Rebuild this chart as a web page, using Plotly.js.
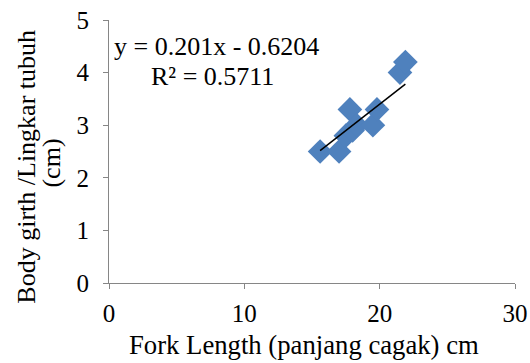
<!DOCTYPE html>
<html><head><meta charset="utf-8">
<script src="https://cdn.plot.ly/plotly-3.0.1.min.js"></script>
<style>body{margin:0;background:#fff}#c{width:530px;height:363px}</style>
</head><body><div id="c"></div>
<script>
const forkLength = [15.6, 17.0, 17.5, 17.8, 18.0, 18.3, 19.5, 19.8, 21.5, 21.9];
const bodyGirth  = [2.5, 2.5, 2.8, 3.3, 2.9, 3.0, 3.0, 3.3, 4.0, 4.2];
const slope = 0.201, intercept = -0.6204, r2 = 0.5711;
const xTicks = [0, 10, 20, 30];
const yTicks = [0, 1, 2, 3, 4, 5];
const xTitle = 'Fork Length (panjang cagak) cm';
const yTitleLines = ['Body girth /Lingkar tubuh', '(cm)'];

const xMin = Math.min(...forkLength), xMax = Math.max(...forkLength);
const trendX = [xMin, xMax];
const trendY = trendX.map(x => slope * x + intercept);

const fam = '"Liberation Serif", "Times New Roman", serif';
const f = s => ({family: fam, size: s, color: '#000'});
const data = [
  {x: forkLength, y: bodyGirth, type: 'scatter', mode: 'markers',
   marker: {symbol: 'diamond', size: 19, color: '#4F81BD', line: {width: 0}}},
  {x: trendX, y: trendY, type: 'scatter', mode: 'lines',
   line: {color: '#000', width: 1.5}}
];
const layout = {
  width: 530, height: 363, showlegend: false,
  margin: {l: 109, r: 15, t: 20, b: 80},
  paper_bgcolor: '#fff', plot_bgcolor: '#fff',
  font: f(20),
  xaxis: {range: [0, 30], tickvals: xTicks, showgrid: false, zeroline: false,
    showline: true, linecolor: '#868686', linewidth: 1,
    ticks: 'outside', ticklen: 5, tickcolor: '#868686',
    tickfont: f(25), ticklabelstandoff: 3},
  yaxis: {range: [0, 5], tickvals: yTicks, showgrid: false, zeroline: false,
    showline: true, linecolor: '#868686', linewidth: 1,
    ticks: 'outside', ticklen: 5, tickcolor: '#868686',
    tickfont: f(25), ticklabelstandoff: 9},
  annotations: [
    {xref: 'paper', yref: 'paper', x: 0.007, y: 0.901, xanchor: 'left', yanchor: 'middle',
     text: 'y = ' + slope + 'x - ' + Math.abs(intercept), showarrow: false, font: f(26)},
    {xref: 'paper', yref: 'paper', x: 0.099, y: 0.787, xanchor: 'left', yanchor: 'middle',
     text: 'R² = ' + r2, showarrow: false, font: f(26)},
    {xref: 'paper', yref: 'paper', x: 0.4815, y: -0.236, xanchor: 'center', yanchor: 'middle',
     text: xTitle, showarrow: false, font: f(26.7)},
    {xref: 'paper', yref: 'paper', x: -0.204, y: 0.443, xanchor: 'center', yanchor: 'middle',
     textangle: -90, text: yTitleLines[0], showarrow: false, font: f(26)},
    {xref: 'paper', yref: 'paper', x: -0.1404, y: 0.458, xanchor: 'center', yanchor: 'middle',
     textangle: -90, text: yTitleLines[1], showarrow: false, font: f(26)}
  ]
};
Plotly.newPlot('c', data, layout, {displayModeBar: false, staticPlot: true});
</script></body></html>
